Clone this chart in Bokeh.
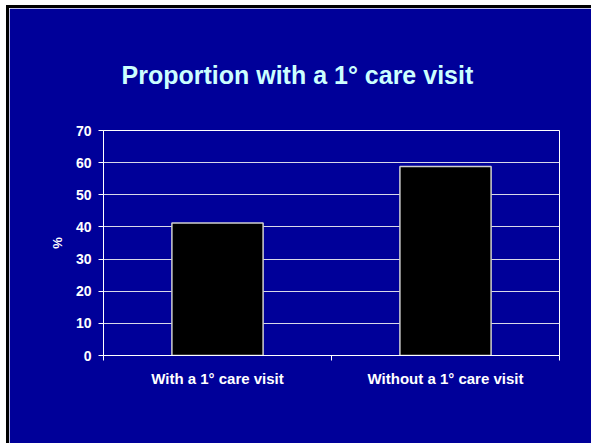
from bokeh.plotting import figure
from bokeh.models import FixedTicker, Range1d
from bokeh.embed import file_html
from bokeh.resources import INLINE

# data
categories = ["With a 1° care visit", "Without a 1° care visit"]
values = [41.2, 58.8]
y_ticks = [0, 10, 20, 30, 40, 50, 60, 70]
title_text = "Proportion with a 1° care visit"

BG = "#000099"
FONT = "Liberation Sans"

xs = [i + 0.5 for i in range(len(categories))]
bounds = [i for i in range(len(categories) + 1)]

p = figure(width=585, height=438, output_backend="svg", toolbar_location=None,
           x_range=Range1d(0, len(categories)), y_range=Range1d(0, 70),
           min_border_left=94, min_border_right=35, min_border_top=122, min_border_bottom=91,
           background_fill_color=BG, border_fill_color=BG,
           styles={"margin-left": "6px", "margin-top": "5px",
                   "border-left": "3px solid #000000", "border-top": "3px solid #000000"})

p.vbar(x=xs, top=values, width=0.4, fill_color="black", line_color="#d0d0d0", line_width=1.5)

# title
p.title.text = title_text
p.title.align = "left"
p.title.offset = 18
p.title.text_color = "#ccffff"
p.title.text_font = FONT
p.title.text_font_style = "bold"
p.title.text_font_size = "25px"
p.title.vertical_align = "bottom"
p.title.standoff = 84

# x axis
xa = p.xaxis[0]
xa.ticker = FixedTicker(ticks=xs, minor_ticks=bounds)
xa.major_label_overrides = {x: c for x, c in zip(xs, categories)}
xa.major_tick_line_color = None
xa.minor_tick_line_color = "white"
xa.minor_tick_out = 5
xa.minor_tick_in = 0
xa.axis_line_color = "white"
xa.major_label_text_color = "white"
xa.major_label_text_font = FONT
xa.major_label_text_font_style = "bold"
xa.major_label_text_font_size = "15px"
xa.major_label_standoff = 8

# y axis
ya = p.yaxis[0]
ya.ticker = FixedTicker(ticks=y_ticks)
ya.minor_tick_line_color = None
ya.major_tick_line_color = "white"
ya.major_tick_out = 5
ya.major_tick_in = 0
ya.axis_line_color = "white"
ya.major_label_text_color = "white"
ya.major_label_text_font = FONT
ya.major_label_text_font_style = "bold"
ya.major_label_text_font_size = "14px"
ya.major_label_standoff = 7
ya.axis_label = "%"
ya.axis_label_text_color = "white"
ya.axis_label_text_font = FONT
ya.axis_label_text_font_style = "bold"
ya.axis_label_text_font_size = "13px"
ya.axis_label_standoff = 8

p.xgrid.grid_line_color = None
p.ygrid.grid_line_color = "#d8d8e8"
p.ygrid.grid_line_width = 1
p.outline_line_color = "white"

open("out.html", "w").write(file_html(p, INLINE))
